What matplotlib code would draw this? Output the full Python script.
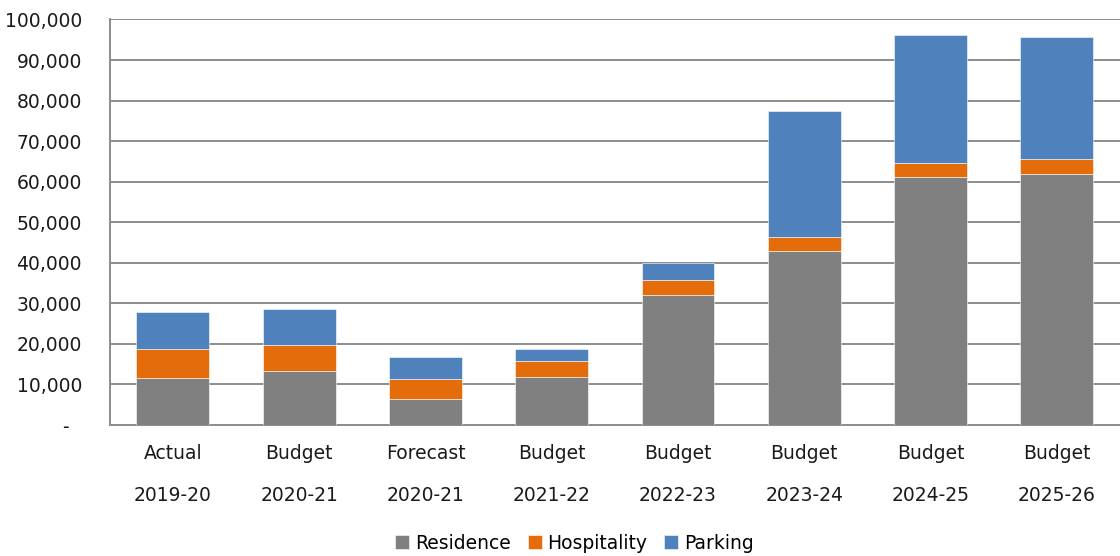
import numpy as np
import matplotlib.pyplot as plt
from matplotlib.ticker import FuncFormatter


# Revenue by stream, in dollars
kinds = ["Actual", "Budget", "Forecast", "Budget", "Budget", "Budget", "Budget", "Budget"]
years = ["2019-20", "2020-21", "2020-21", "2021-22", "2022-23", "2023-24", "2024-25", "2025-26"]

residence = [11600, 13200, 6500, 11800, 32000, 42900, 61050, 62000]
hospitality = [7050, 6600, 4750, 4100, 3650, 3450, 3550, 3650]
parking = [9250, 8900, 5500, 2750, 4200, 31050, 31450, 29950]

colors = ["#808080", "#E46C0A", "#4F81BD"]
names = ["Residence", "Hospitality", "Parking"]


def fmt_thousands(v, pos):
    '''
        Accounting style labels: zero shown as a dash
    '''
    if v == 0:
        return "-  "
    return f"{int(v):,}"


def main():
    plt.rcParams['font.family'] = ['DejaVu Sans']
    plt.rcParams['font.size'] = 13.5

    fig = plt.figure(figsize=(11.2, 5.56), dpi=100)
    ax = fig.add_axes([0.098, 0.2356, 0.902, 0.7294])

    x = np.arange(len(years))
    width = 0.577

    # Stack the three series
    bottom = np.zeros(len(years))
    for vals, c, n in zip([residence, hospitality, parking], colors, names):
        ax.bar(x, vals, width, bottom=bottom, color=c, label=n,
               edgecolor="white", linewidth=0.4, zorder=3)
        bottom += np.array(vals)

    ax.set_xlim(-0.5, len(years) - 0.5)
    ax.set_ylim(0, 100000)
    ax.set_yticks(np.arange(0, 100001, 10000))
    ax.yaxis.set_major_formatter(FuncFormatter(fmt_thousands))
    ax.tick_params(axis='y', length=0, pad=20, labelsize=13.5, colors="#1a1a1a")
    ax.tick_params(axis='x', length=0, labelbottom=False)

    ax.grid(axis='y', color="#8c8c8c", linewidth=1.4, zorder=0)
    for side in ["top", "right"]:
        ax.spines[side].set_visible(False)
    for side in ["left", "bottom"]:
        ax.spines[side].set_color("#8c8c8c")
        ax.spines[side].set_linewidth(1.4)

    # Two-line category labels
    trans = ax.get_xaxis_transform()
    for i, (k, y) in enumerate(zip(kinds, years)):
        ax.annotate(k, (i, 0), xycoords=trans, xytext=(0, -28),
                    textcoords="offset pixels", ha="center", va="center",
                    fontsize=13.5, color="#1a1a1a")
        ax.annotate(y, (i, 0), xycoords=trans, xytext=(0, -70),
                    textcoords="offset pixels", ha="center", va="center",
                    fontsize=13.5, color="#1a1a1a")

    fig.legend(loc="center", bbox_to_anchor=(0.513, 0.023), ncol=3,
               frameon=False, handlelength=0.75, handleheight=0.75,
               handletextpad=0.3, columnspacing=0.9, fontsize=13.5)

    fig.savefig("out.png", dpi=100)


if __name__ == "__main__":
    main()
